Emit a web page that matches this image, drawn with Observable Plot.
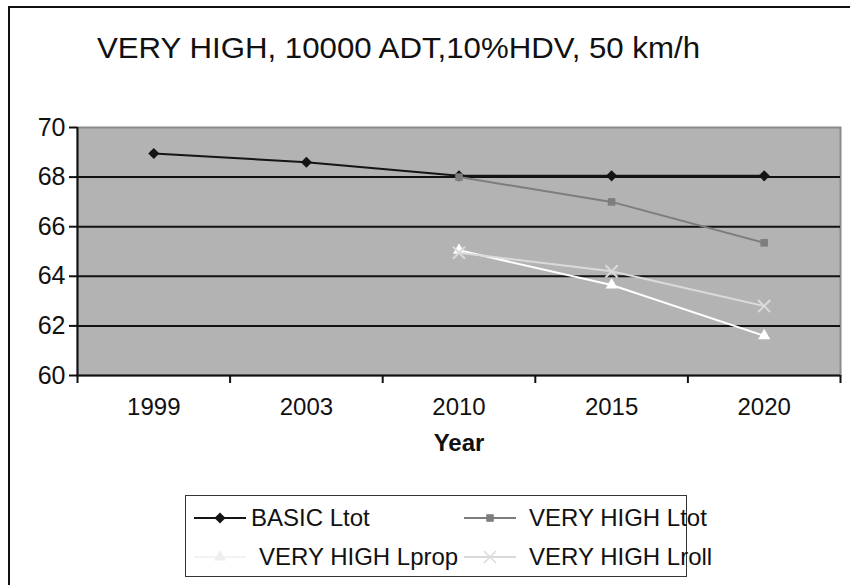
<!DOCTYPE html>
<html>
<head>
<meta charset="utf-8">
<script src="https://cdn.jsdelivr.net/npm/d3@7"></script>
<script src="https://cdn.jsdelivr.net/npm/@observablehq/plot@0.6"></script>
<style>
  body { margin: 0; background: #fff; }
  #wrap { position: relative; width: 850px; height: 585px; overflow: hidden;
          font-family: "Liberation Sans", Arial, sans-serif; color: #111; }
  #border { position: absolute; left: 8px; top: 6px; width: 900px; height: 650px;
            border-left: 2px solid #111; border-top: 2px solid #111; }
  #chart { position: absolute; left: 0; top: 0; }
  #title { position: absolute; left: 0; top: 0; }
  #legend { position: absolute; left: 185px; top: 495px; width: 500px; height: 80px;
            border: 1.5px solid #333; background: #fff; }
  .item { position: absolute; height: 30px; display: flex; align-items: center;
          font-size: 24px; white-space: nowrap; }
  .item svg { margin-right: 5px; }
</style>
</head>
<body>
<div id="wrap">
  <div id="border"></div>
  <div id="chart"></div>
  <svg id="title" width="850" height="90"></svg>
  <div id="legend"></div>
</div>
<script>
// Years on the category axis
const years = ["1999", "2003", "2010", "2015", "2020"];

// Noise levels (dB) per scenario; null where a scenario has no value
const basicLtot    = [68.95, 68.6, 68.05, 68.05, 68.05];
const veryHighLtot = [null, null, 68.0, 67.0, 65.35];
const veryHighLprop = [null, null, 65.05, 63.65, 61.6];
const veryHighLroll = [null, null, 64.95, 64.2, 62.8];

const yTicks = [60, 62, 64, 66, 68, 70];
const seriesNames = ["BASIC Ltot", "VERY HIGH Ltot", "VERY HIGH Lprop", "VERY HIGH Lroll"];
const titleText = "VERY HIGH, 10000 ADT,10%HDV, 50 km/h";

const series = [
  {name: seriesNames[0], values: basicLtot,     color: "#151515", symbol: "diamond2", r: 5,   filled: true},
  {name: seriesNames[1], values: veryHighLtot,  color: "#7d7d7d", symbol: "square2",  r: 4.8, filled: true},
  {name: seriesNames[2], values: veryHighLprop, color: "#ffffff", symbol: "triangle2", r: 5.8, filled: true},
  {name: seriesNames[3], values: veryHighLroll, color: "#dadada", symbol: "times",    r: 5.6, filled: false}
];

// Rows for each series: position index i (category centre at i + 0.5)
const rowsOf = s => s.values
  .map((v, i) => ({series: s.name, i, year: years[i], value: v}))
  .filter(d => d.value != null);

const lineMarks = series.flatMap(s => {
  const rows = rowsOf(s);
  return [
    Plot.line(rows, {x: d => d.i + 0.5, y: "value", stroke: s.color, strokeWidth: 2}),
    Plot.dot(rows, s.filled
      ? {x: d => d.i + 0.5, y: "value", symbol: s.symbol, r: s.r, fill: s.color, stroke: "none"}
      : {x: d => d.i + 0.5, y: "value", symbol: s.symbol, r: s.r, stroke: s.color, strokeWidth: 2, fill: "none"})
  ];
});

const chart = Plot.plot({
  width: 850,
  height: 585,
  marginLeft: 77,
  marginRight: 10,
  marginTop: 127,
  marginBottom: 210,
  style: {fontFamily: "'Liberation Sans', Arial, sans-serif", fontSize: "24px", color: "#111", background: "transparent"},
  x: {type: "linear", domain: [0, years.length]},
  y: {domain: [60, 70]},
  marks: [
    Plot.frame({fill: "#b3b3b3", stroke: "#8a8a8a", strokeWidth: 2}),
    Plot.ruleY(yTicks.slice(1, -1), {stroke: "#111", strokeWidth: 2}),
    Plot.axisY({ticks: yTicks, tickSize: 8, tickPadding: 4, strokeWidth: 2, fontSize: 25, label: null}),
    Plot.axisX({ticks: d3.range(years.length + 1), tickSize: 8, strokeWidth: 2, tickFormat: () => "", label: null}),
    Plot.axisX({ticks: years.map((_, i) => i + 0.5), tickSize: 0, tickPadding: 22,
                tickFormat: v => years[Math.floor(v)], label: null}),
    Plot.ruleX([0], {stroke: "#111", strokeWidth: 2}),
    Plot.ruleY([60], {stroke: "#111", strokeWidth: 2}),
    ...lineMarks,
    Plot.text(["Year"], {frameAnchor: "bottom", dy: 75, fontWeight: "bold", fontSize: 24, fill: "#111"})
  ]
});
document.getElementById("chart").append(chart);

// Title
d3.select("#title").append("text")
  .attr("x", 97).attr("y", 58)
  .attr("font-size", 30)
  .attr("font-family", "'Liberation Sans', Arial, sans-serif")
  .attr("fill", "#111")
  .attr("textLength", 603)
  .attr("lengthAdjust", "spacingAndGlyphs")
  .text(titleText);

// Legend
const legendPos = [
  {left: 8, top: 7, textGap: 5},
  {left: 278, top: 7, textGap: 13},
  {left: 8, top: 46, textGap: 13},
  {left: 278, top: 46, textGap: 13}
];
const legend = d3.select("#legend");
series.forEach((s, k) => {
  const p = legendPos[k];
  const item = legend.append("div").attr("class", "item")
    .style("left", p.left + "px").style("top", p.top + "px");
  const sw = item.append("svg").attr("width", 52).attr("height", 20)
    .style("margin-right", p.textGap + "px");
  sw.append("line").attr("x1", 0).attr("x2", 52).attr("y1", 10).attr("y2", 10)
    .attr("stroke", k === 2 ? "#f2f2f2" : s.color).attr("stroke-width", 2);
  const symMap = {diamond2: d3.symbolDiamond2, square2: d3.symbolSquare2, triangle2: d3.symbolTriangle2, times: d3.symbolTimes};
  const path = d3.symbol(symMap[s.symbol], s.r * s.r * Math.PI)();
  const g = sw.append("path").attr("d", path).attr("transform", "translate(26,10)");
  if (s.filled) g.attr("fill", k === 2 ? "#eeeeee" : s.color);
  else g.attr("fill", "none").attr("stroke", s.color).attr("stroke-width", 1.5);
  item.append("span").text(s.name);
});
</script>
</body>
</html>
